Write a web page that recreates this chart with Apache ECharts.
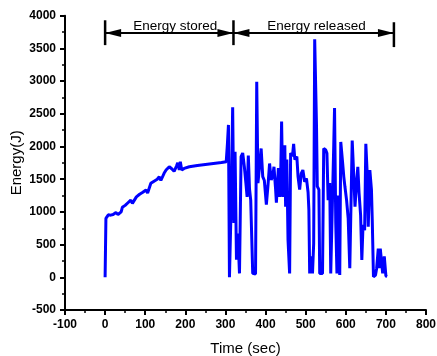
<!DOCTYPE html>
<html>
<head>
<meta charset="utf-8">
<script src="https://cdn.jsdelivr.net/npm/echarts@6/dist/echarts.min.js"></script>
<style>
html,body{margin:0;padding:0;background:#fff;}
#chart{width:437px;height:356px;}
</style>
</head>
<body>
<div id="chart"></div>
<script>
// Data: time (sec) and energy (J)
const timeSec = [0,2,5,8,14,20,27,32,36,40,43,50,57,64,68,72,78,86,94,102,106,109,114,122,130,135,139,142,147,152,160,166,172,178,181,185,187.5,191,197,210,230,250,270,290,302,
305,307.5,310,314,318,321,324,327.5,331,335,339,343,347,351,354,357,360,363,366,368,375,378,381,385,389,393,397,402,406,410,414,418,421,425,427,432,435,437,440,443,446,448,450,453,456,460,462.5,467,470,473,478,481,485,489,493,497.5,502,506,508,510,514,517,520,522.5,527,529,533,535,542,545,550,553,556,560,562.5,567,570,572,575,578,581,584,585,587.5,592,595,598,602,606,610,612,616,620,623,627,630,633,637,640,643,647,650,653,656,660,664,666,669,674,677,681,683,686,689,692,696,700,703];
const energyJ = [0,900,930,955,950,960,990,960,950,1000,1070,1100,1140,1180,1130,1105,1230,1270,1300,1335,1290,1285,1437,1470,1500,1538,1480,1462,1590,1640,1690,1660,1620,1700,1752,1640,1768,1640,1665,1690,1710,1725,1740,1755,1768,
2050,2330,0,1050,2600,830,1920,270,670,60,1845,1900,1700,1440,1230,1860,1350,1180,1150,60,50,2990,1440,1700,1970,1540,1480,1110,1400,1740,1490,1550,1690,1350,1140,1670,1230,1300,2380,1230,1845,2020,1080,1800,570,60,1900,1850,2040,1800,1845,1540,1340,1590,1640,1460,1510,1300,1030,60,320,60,520,3640,2330,1390,1340,60,60,1970,1946,1895,1180,1440,60,35,2020,2590,830,60,1250,160,35,2070,1760,1540,1380,1180,900,140,110,2090,1540,1080,1460,1690,1300,950,265,800,720,2040,1640,775,1640,1340,880,10,30,140,440,140,440,440,60,320,20,10];

// Annotation spans (data units)
const phaseLabels = ['Energy stored', 'Energy released'];
const phaseBounds = [0, 320, 720];
const labelCenters = [175, 527];
const arrowLevel = 3735;

const xTicks = {min: -100, max: 800, interval: 100};
const yTicks = {min: -500, max: 4000, interval: 500};

const seriesData = timeSec.map((t, i) => [t, energyJ[i]]);

const FONT = "'Liberation Sans', Arial, sans-serif";
const chart = echarts.init(document.getElementById('chart'), null, {renderer: 'canvas'});

const axisCommon = {
  axisLine: {show: true, onZero: false, lineStyle: {color: '#000', width: 2}},
  axisTick: {show: true, inside: false, length: 5, lineStyle: {color: '#000', width: 2}},
  minorTick: {show: true, splitNumber: 2, length: 3, lineStyle: {color: '#000', width: 1.5}},
  splitLine: {show: false},
  axisLabel: {color: '#000', fontFamily: FONT, fontWeight: 'bold', fontSize: 12, margin: 9,
    formatter: v => String(v)},
  nameTextStyle: {color: '#000', fontFamily: FONT, fontSize: 15},
  nameLocation: 'middle',
  nameMoveOverlap: false
};

chart.setOption({
  animation: false,
  grid: {left: 65, right: 11, top: 15.7, bottom: 46, containLabel: false, outerBoundsMode: 'none'},
  xAxis: Object.assign({}, axisCommon, {
    type: 'value', min: xTicks.min, max: xTicks.max, interval: xTicks.interval,
    name: 'Time (sec)', nameGap: 31
  }),
  yAxis: Object.assign({}, axisCommon, {
    type: 'value', min: yTicks.min, max: yTicks.max, interval: yTicks.interval,
    name: 'Energy(J)', nameGap: 41
  }),
  series: [{
    type: 'line',
    data: seriesData,
    showSymbol: false,
    symbol: 'none',
    lineStyle: {color: '#0000FF', width: 3},
    z: 2
  }]
});

function px(x, y) { return chart.convertToPixel({xAxisIndex: 0, yAxisIndex: 0}, [x, y]); }

const g = [];
const yA = px(0, arrowLevel)[1];
const barTop = [3930, 3930, 3900];
const barBot = [3550, 3550, 3520];
phaseBounds.forEach((b, i) => {
  const p1 = px(b, barTop[i]), p2 = px(b, barBot[i]);
  g.push({type: 'line', shape: {x1: p1[0], y1: p1[1], x2: p2[0], y2: p2[1]}, style: {stroke: '#000', lineWidth: 2.5}});
});
const headLen = 16, headHalf = 4;
for (let i = 0; i < 2; i++) {
  const xa = px(phaseBounds[i], 0)[0], xb = px(phaseBounds[i + 1], 0)[0];
  g.push({type: 'line', shape: {x1: xa, y1: yA, x2: xb, y2: yA}, style: {stroke: '#000', lineWidth: 2}});
  g.push({type: 'polygon', shape: {points: [[xa, yA], [xa + headLen, yA - headHalf], [xa + headLen, yA + headHalf]]}, style: {fill: '#000'}});
  g.push({type: 'polygon', shape: {points: [[xb, yA], [xb - headLen, yA - headHalf], [xb - headLen, yA + headHalf]]}, style: {fill: '#000'}});
}
phaseLabels.forEach((t, i) => {
  const cx = px(labelCenters[i], 0)[0];
  g.push({type: 'text', x: cx, y: yA - 7, style: {text: t, fill: '#000', font: '13.5px ' + FONT, align: 'center', verticalAlign: 'middle'}});
});
chart.setOption({graphic: g});
</script>
</body>
</html>
